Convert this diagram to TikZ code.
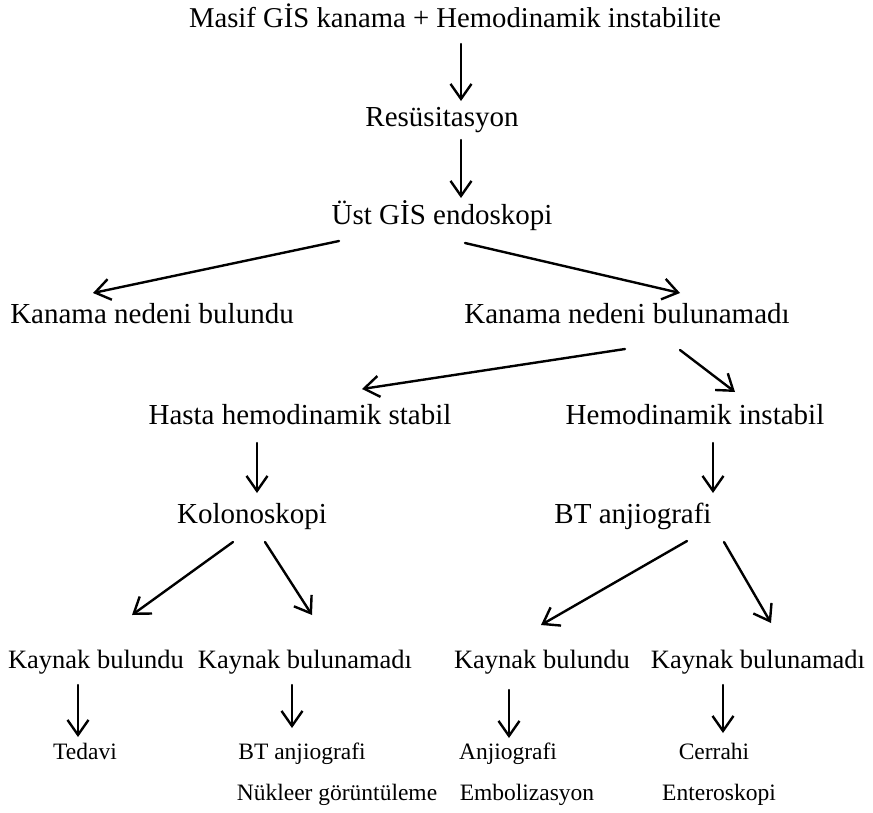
\documentclass[tikz,border=0pt]{standalone}
\usepackage{fontspec}
\setmainfont{Liberation Serif}
\usetikzlibrary{arrows.meta}
\begin{document}
\begin{tikzpicture}[x=1pt,y=-1pt,
  lbl/.style={inner sep=0pt,anchor=base,font=\fontsize{29}{32}\selectfont},
  sm/.style={lbl,font=\fontsize{26.5}{30}\selectfont},
  xs/.style={lbl,font=\fontsize{23.5}{27}\selectfont},
  arr/.style={line width=2.4pt,line cap=round,-{Straight Barb[length=15pt,width=21pt,line width=2.4pt]}}]
\useasboundingbox (0,0) rectangle (873,812);
% texts
\node[lbl,font=\fontsize{28.7}{32}\selectfont] (top) at (455,27) {Masif GİS kanama + Hemodinamik instabilite};
\node[lbl] (res) at (442,126) {Resüsitasyon};
\node[lbl] (ust) at (442,224) {Üst GİS endoskopi};
\node[lbl] (kb) at (152,323) {Kanama nedeni bulundu};
\node[lbl] (kbn) at (627,323) {Kanama nedeni bulunamadı};
\node[lbl] (hasta) at (300,424) {Hasta hemodinamik stabil};
\node[lbl] (hemo) at (695,424) {Hemodinamik instabil};
\node[lbl] (kolon) at (252,523) {Kolonoskopi};
\node[lbl] (bta) at (633,523) {BT anjiografi};
\node[sm] (kay1) at (96,668) {Kaynak bulundu};
\node[sm] (kay2) at (305,668) {Kaynak bulunamadı};
\node[sm] (kay3) at (542,668) {Kaynak bulundu};
\node[sm] (kay4) at (758,668) {Kaynak bulunamadı};
\node[xs] (tedavi) at (85,759) {Tedavi};
\node[xs] (bt2) at (302,759) {BT anjiografi};
\node[xs] (nuk) at (337,800) {Nükleer görüntüleme};
\node[xs] (anj) at (508,759) {Anjiografi};
\node[xs] (emb) at (527,800) {Embolizasyon};
\node[xs] (cer) at (714,759) {Cerrahi};
\node[xs] (ent) at (719,800) {Enteroskopi};
% connectors
\foreach \n/\sx/\sy/\ex/\ey in {
  1/461/44/461/101, 2/461/140/461/198,
  3/339/241/93/293, 4/465/243/680/293,
  5/625/349/362/389, 6/680/350/735/392,
  7/257/443/257/493, 8/713/443/713/493,
  9/233/542/132/615, 10/265/542/312/615,
  11/687/541/541/625, 12/724/542/771/623,
  13/78/685/78/737, 14/292/685/292/728,
  15/509/690/509/738, 16/723/685/723/733}{
  \coordinate (s\n) at (\sx,\sy);
  \coordinate (e\n) at (\ex,\ey);
  \draw[arr] (s\n) -- (e\n);
}
\end{tikzpicture}
\end{document}
